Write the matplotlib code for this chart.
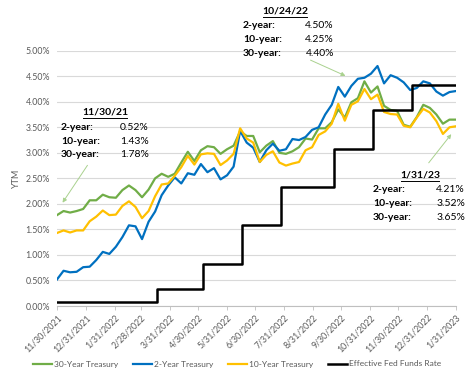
import matplotlib
matplotlib.use("Agg")
import matplotlib.pyplot as plt
from matplotlib.ticker import FuncFormatter
from matplotlib.lines import Line2D
import pandas as pd

# weekly closes, 11/30/2021 .. 1/31/2023 (every 7 days)
dates = pd.date_range("2021-11-30", "2023-01-31", freq="7D")

y2 = [0.52, 0.69, 0.66, 0.67, 0.76, 0.77, 0.90, 1.06, 1.02, 1.16,
      1.35, 1.58, 1.56, 1.31, 1.65, 1.85, 2.17, 2.36, 2.52, 2.40,
      2.60, 2.57, 2.78, 2.62, 2.70, 2.48, 2.56, 2.73, 3.43, 3.20,
      3.10, 2.82, 3.05, 3.18, 3.04, 3.07, 3.27, 3.25, 3.31, 3.45,
      3.50, 3.75, 3.94, 4.29, 4.10, 4.31, 4.45, 4.47, 4.55, 4.70,
      4.36, 4.52, 4.47, 4.38, 4.23, 4.27, 4.40, 4.36, 4.20, 4.12,
      4.19, 4.21]

y10 = [1.43, 1.48, 1.44, 1.48, 1.48, 1.66, 1.75, 1.87, 1.78, 1.79,
       1.96, 2.05, 1.94, 1.72, 1.86, 2.15, 2.38, 2.40, 2.55, 2.72,
       2.94, 2.77, 2.97, 2.99, 2.98, 2.76, 2.85, 2.98, 3.48, 3.28,
       3.20, 2.82, 2.96, 3.03, 2.81, 2.75, 2.79, 2.82, 3.05, 3.11,
       3.35, 3.42, 3.57, 3.96, 3.63, 3.94, 4.01, 4.25, 4.05, 4.14,
       3.80, 3.76, 3.75, 3.53, 3.50, 3.69, 3.86, 3.79, 3.62, 3.37,
       3.50, 3.52]

y30 = [1.78, 1.86, 1.83, 1.86, 1.90, 2.07, 2.07, 2.18, 2.13, 2.12,
       2.27, 2.36, 2.27, 2.13, 2.28, 2.50, 2.59, 2.53, 2.59, 2.81,
       3.02, 2.84, 3.05, 3.13, 3.11, 2.98, 3.07, 3.14, 3.42, 3.33,
       3.33, 3.01, 3.14, 3.23, 3.00, 2.98, 3.03, 3.11, 3.28, 3.26,
       3.48, 3.48, 3.60, 3.85, 3.69, 3.99, 4.07, 4.40, 4.18, 4.30,
       3.92, 3.84, 3.82, 3.55, 3.51, 3.70, 3.94, 3.88, 3.75, 3.57,
       3.65, 3.65]

fed_dates = pd.to_datetime(["2021-11-30", "2022-03-17", "2022-05-05", "2022-06-16",
                            "2022-07-28", "2022-09-22", "2022-11-03", "2022-12-15",
                            "2023-01-31"])
fed_rates = [0.08, 0.33, 0.83, 1.58, 2.33, 3.08, 3.83, 4.33, 4.33]

tick_dates = pd.to_datetime(["2021-11-30", "2021-12-31", "2022-01-31", "2022-02-28",
                             "2022-03-31", "2022-04-30", "2022-05-31", "2022-06-30",
                             "2022-07-31", "2022-08-31", "2022-09-30", "2022-10-31",
                             "2022-11-30", "2022-12-31", "2023-01-31"])

notes = [
    ("11/30/21", ["0.52%", "1.43%", "1.78%"]),
    ("10/24/22", ["4.50%", "4.25%", "4.40%"]),
    ("1/31/23", ["4.21%", "3.52%", "3.65%"]),
]
row_names = ["2-year:", "10-year:", "30-year:"]

plt.rcParams["font.family"] = ["Lato", "DejaVu Sans"]

W, H = 474, 378
fig = plt.figure(figsize=(W / 100, H / 100), dpi=100)
ax = fig.add_axes([57 / W, 1 - 306 / H, (456 - 57) / W, (306 - 50.7) / H])

ax.plot(dates, y30, color="#70AD47", lw=1.6, label="30-Year Treasury")
ax.plot(dates, y2, color="#0070C0", lw=1.6, label="2-Year Treasury")
ax.plot(dates, y10, color="#FFC000", lw=1.6, label="10-Year Treasury")
ax.plot(fed_dates, fed_rates, color="black", lw=1.8, drawstyle="steps-post",
        label="Effective Fed Funds Rate")

ax.set_xlim(tick_dates[0], tick_dates[-1])
ax.set_ylim(0, 5.0)
ax.set_yticks([i * 0.5 for i in range(11)])
ax.yaxis.set_major_formatter(FuncFormatter(lambda v, p: f"{v:.2f}%"))
ax.set_xticks(tick_dates)
ax.set_xticklabels([f"{d.month}/{d.day}/{d.year}" for d in tick_dates],
                   rotation=45, ha="right", rotation_mode="anchor")
ax.tick_params(axis="x", labelsize=6.3, colors="#595959", length=3, width=0.6,
               color="#BFBFBF", pad=2)
ax.tick_params(axis="y", labelsize=6.3, colors="#595959", length=0, pad=5)
ax.grid(axis="y", color="#D9D9D9", lw=0.8)
ax.set_axisbelow(True)
for s in ["top", "right", "left"]:
    ax.spines[s].set_visible(False)
ax.spines["bottom"].set_color("#BFBFBF")
ax.spines["bottom"].set_linewidth(0.8)
ax.set_ylabel("YTM", fontsize=6.5, color="#595959", labelpad=3)

leg = fig.legend(loc="center", bbox_to_anchor=(0.5, 1 - 364 / H), ncol=4,
                 frameon=False, fontsize=6, handlelength=2.3, columnspacing=1.8,
                 handletextpad=0.2)
for t in leg.get_texts():
    t.set_color("#595959")


def px(x, y):
    return x / W, 1 - y / H


# annotation blocks: title center, label left, value right, title y
blocks = [(105, 61, 149, 112), (285, 243, 334, 11), (420, 373, 465, 175)]
for (title, vals), (cx, lx, rx, ty) in zip(notes, blocks):
    fig.text(*px(cx, ty), title, ha="center", va="center", fontsize=7.5,
             fontweight="bold")
    tw = 22 if len(title) == 8 else 19
    fig.add_artist(Line2D([(cx - tw) / W, (cx + tw) / W],
                          [1 - (ty + 6) / H] * 2, color="black", lw=0.7))
    for i, (name, v) in enumerate(zip(row_names, vals)):
        yy = ty + 15 + i * 14
        fig.text(*px(lx, yy), name, ha="left", va="center", fontsize=7.5,
                 fontweight="bold")
        fig.text(*px(rx, yy), v, ha="right", va="center", fontsize=7.5)

arrows = [((89, 163), (61, 205)), ((308, 59), (348, 77)), ((427, 165), (453, 132))]
for start, end in arrows:
    ax.annotate("", xy=px(*end), xycoords="figure fraction",
                xytext=px(*start), textcoords="figure fraction",
                arrowprops=dict(arrowstyle="-|>", color="#A9D18E", lw=0.7,
                                mutation_scale=6))

fig.savefig("out.png", dpi=100)
